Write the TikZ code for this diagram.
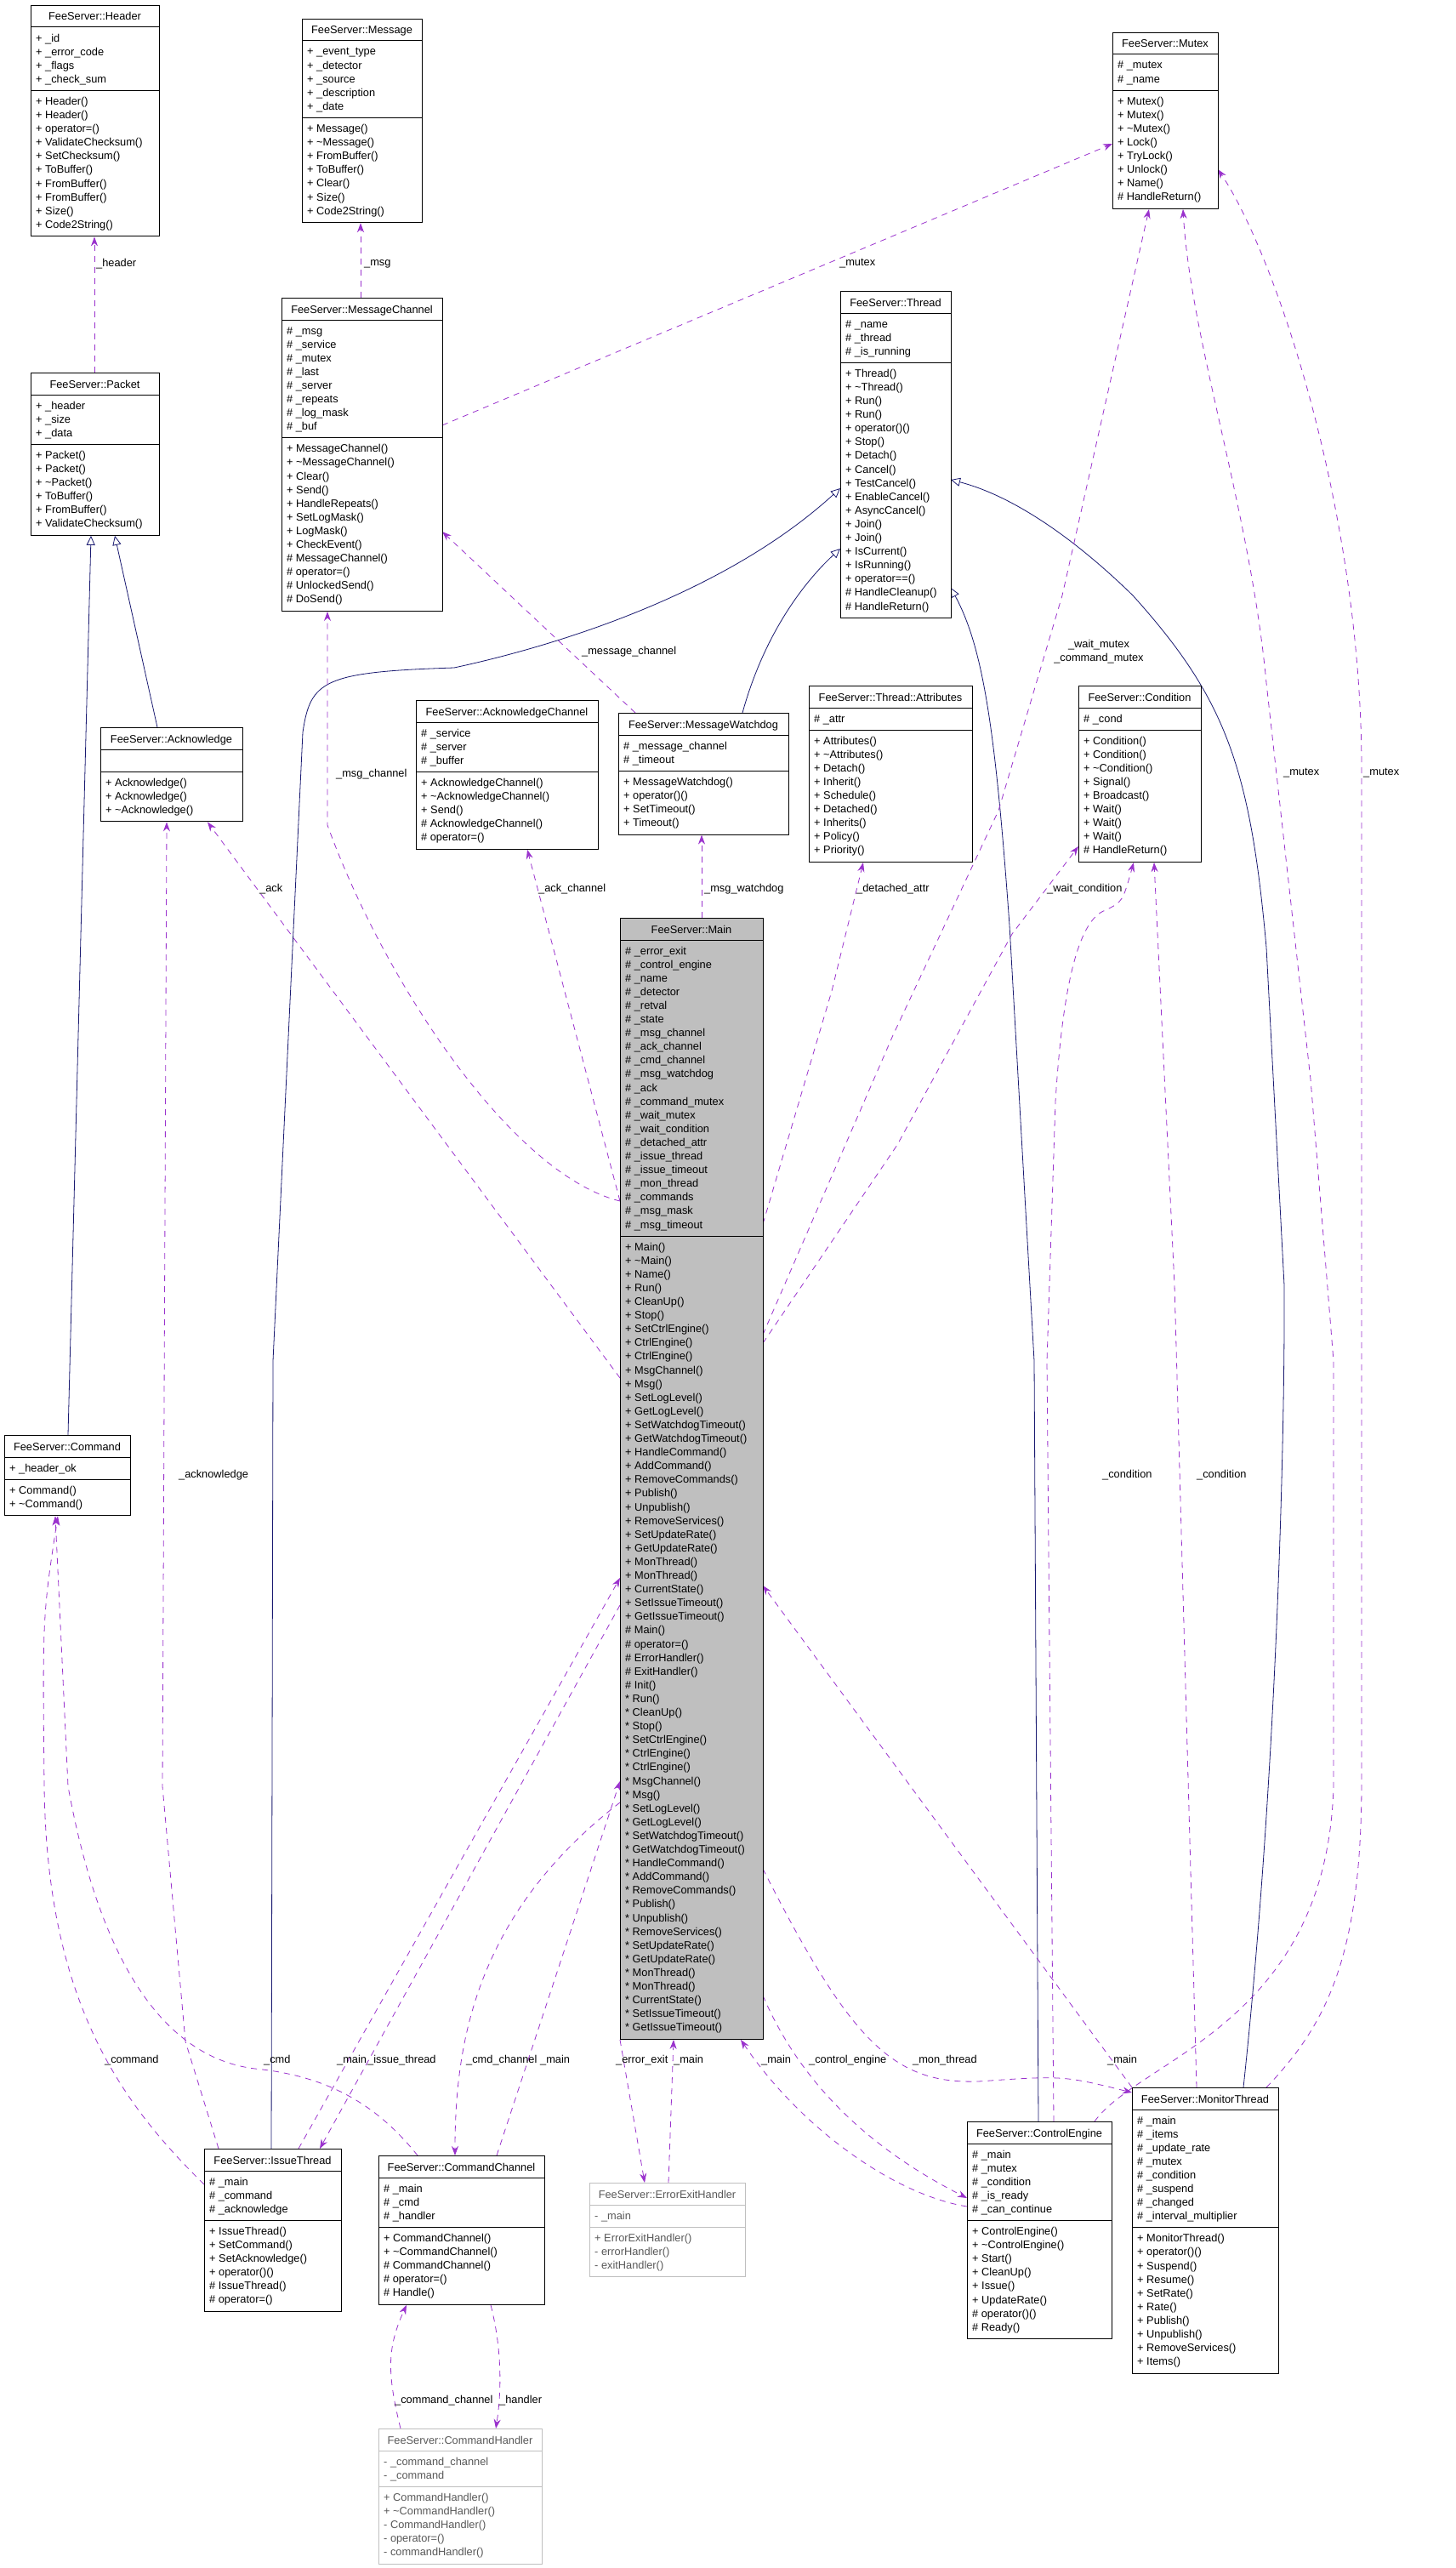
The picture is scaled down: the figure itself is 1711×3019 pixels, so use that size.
\documentclass[tikz,border=0pt]{standalone}
\usepackage{fontspec}
\setmainfont{Liberation Sans}
\usetikzlibrary{arrows.meta}
\definecolor{pur}{HTML}{9A32CD}
\definecolor{nav}{HTML}{191970}
\pgfdeclarelayer{back}\pgfdeclarelayer{bg}\pgfsetlayers{back,bg,main}
\tikzset{
 boxst/.style={draw=black, fill=white, line width=1pt},
 curbox/.style={boxst}, curtext/.style={},
 txt/.style={inner sep=0, font=\fontsize{12.8}{16}\selectfont},
 dep/.style={draw=pur, line width=0.8pt, dash pattern=on 7pt off 6pt, -{Stealth[length=11pt,width=8pt]}},
 inh/.style={draw=nav, line width=0.8pt, -{Triangle[open,length=11pt,width=10pt,fill=white]}},
 lbl/.style={txt, anchor=west},
}
\newcommand\arow{16.1}
\newcommand\umlbox[9]{%
 \pgfmathsetmacro\hB{max(#6,1)*\arow+10}%
 \pgfmathsetmacro\hC{max(#8,1)*16.1+10}%
 \pgfmathsetmacro\hT{26+\hB+\hC}%
 \node[curbox, inner sep=0, minimum width=#4pt, minimum height=\hT pt, anchor=north west] (#1) at (#2,#3) {};
 \draw[curbox,fill=none] (#2,#3+26) -- ++(#4,0);
 \draw[curbox,fill=none] (#2,#3+26+\hB) -- ++(#4,0);
 \node[txt,curtext,anchor=base] (#1t) at (#2+#4/2,#3+18) {#5};
 \foreach \t [count=\i] in {#7} {\node[txt,curtext,anchor=base west] (#1a\i) at (#2+6,#3+43+\i*\arow-\arow) {\t};}
 \foreach \t [count=\i] in {#9} {\node[txt,curtext,anchor=base west] (#1m\i) at (#2+6,#3+43+\hB+\i*16.1-16.1) {\t};}
}
\newcommand\tl{\textasciitilde}
\begin{document}
\begin{tikzpicture}[x=1pt,y=-1pt]
\useasboundingbox (0,0) rectangle (1711,3019);
\begin{pgfonlayer}{back}
\fill[white] (0,0) rectangle (1711,3019);
\end{pgfonlayer}

\umlbox{header}{36}{6}{151}{FeeServer::Header}{4}{+ \_id,+ \_error\_code,+ \_flags,+ \_check\_sum}{10}{+ Header(),+ Header(),+ operator=(),+ ValidateChecksum(),+ SetChecksum(),+ ToBuffer(),+ FromBuffer(),+ FromBuffer(),+ Size(),+ Code2String()}
\umlbox{message}{355}{22}{141}{FeeServer::Message}{5}{+ \_event\_type,+ \_detector,+ \_source,+ \_description,+ \_date}{7}{+ Message(),+ \tl Message(),+ FromBuffer(),+ ToBuffer(),+ Clear(),+ Size(),+ Code2String()}
\umlbox{mutex}{1308}{38}{124}{FeeServer::Mutex}{2}{\# \_mutex,\# \_name}{8}{+ Mutex(),+ Mutex(),+ \tl Mutex(),+ Lock(),+ TryLock(),+ Unlock(),+ Name(),\# HandleReturn()}
\umlbox{thread}{988}{342}{130}{FeeServer::Thread}{3}{\# \_name,\# \_thread,\# \_is\_running}{18}{+ Thread(),+ \tl Thread(),+ Run(),+ Run(),+ operator()(),+ Stop(),+ Detach(),+ Cancel(),+ TestCancel(),+ EnableCancel(),+ AsyncCancel(),+ Join(),+ Join(),+ IsCurrent(),+ IsRunning(),+ operator==(),\# HandleCleanup(),\# HandleReturn()}
\umlbox{mchan}{331}{350}{189}{FeeServer::MessageChannel}{8}{\# \_msg,\# \_service,\# \_mutex,\# \_last,\# \_server,\# \_repeats,\# \_log\_mask,\# \_buf}{12}{+ MessageChannel(),+ \tl MessageChannel(),+ Clear(),+ Send(),+ HandleRepeats(),+ SetLogMask(),+ LogMask(),+ CheckEvent(),\# MessageChannel(),\# operator=(),\# UnlockedSend(),\# DoSend()}
\umlbox{packet}{36}{438}{151}{FeeServer::Packet}{3}{+ \_header,+ \_size,+ \_data}{6}{+ Packet(),+ Packet(),+ \tl Packet(),+ ToBuffer(),+ FromBuffer(),+ ValidateChecksum()}
\umlbox{ack}{118}{855}{167}{FeeServer::Acknowledge}{0}{}{3}{+ Acknowledge(),+ Acknowledge(),+ \tl Acknowledge()}
\umlbox{ackch}{489}{823}{214}{FeeServer::AcknowledgeChannel}{3}{\# \_service,\# \_server,\# \_buffer}{5}{+ AcknowledgeChannel(),+ \tl AcknowledgeChannel(),+ Send(),\# AcknowledgeChannel(),\# operator=()}
\umlbox{mwd}{727}{838}{200}{FeeServer::MessageWatchdog}{2}{\# \_message\_channel,\# \_timeout}{4}{+ MessageWatchdog(),+ operator()(),+ SetTimeout(),+ Timeout()}
\umlbox{attr}{951}{806}{192}{FeeServer::Thread::Attributes}{1}{\# \_attr}{9}{+ Attributes(),+ \tl Attributes(),+ Detach(),+ Inherit(),+ Schedule(),+ Detached(),+ Inherits(),+ Policy(),+ Priority()}
\umlbox{cond}{1268}{806}{144}{FeeServer::Condition}{1}{\# \_cond}{9}{+ Condition(),+ Condition(),+ \tl Condition(),+ Signal(),+ Broadcast(),+ Wait(),+ Wait(),+ Wait(),\# HandleReturn()}
\tikzset{curbox/.style={boxst,fill=gray!50}}
\umlbox{main}{729}{1079}{168}{FeeServer::Main}{21}{\# \_error\_exit,\# \_control\_engine,\# \_name,\# \_detector,\# \_retval,\# \_state,\# \_msg\_channel,\# \_ack\_channel,\# \_cmd\_channel,\# \_msg\_watchdog,\# \_ack,\# \_command\_mutex,\# \_wait\_mutex,\# \_wait\_condition,\# \_detached\_attr,\# \_issue\_thread,\# \_issue\_timeout,\# \_mon\_thread,\# \_commands,\# \_msg\_mask,\# \_msg\_timeout}{58}{+ Main(),+ \tl Main(),+ Name(),+ Run(),+ CleanUp(),+ Stop(),+ SetCtrlEngine(),+ CtrlEngine(),+ CtrlEngine(),+ MsgChannel(),+ Msg(),+ SetLogLevel(),+ GetLogLevel(),+ SetWatchdogTimeout(),+ GetWatchdogTimeout(),+ HandleCommand(),+ AddCommand(),+ RemoveCommands(),+ Publish(),+ Unpublish(),+ RemoveServices(),+ SetUpdateRate(),+ GetUpdateRate(),+ MonThread(),+ MonThread(),+ CurrentState(),+ SetIssueTimeout(),+ GetIssueTimeout(),\# Main(),\# operator=(),\# ErrorHandler(),\# ExitHandler(),\# Init(),* Run(),* CleanUp(),* Stop(),* SetCtrlEngine(),* CtrlEngine(),* CtrlEngine(),* MsgChannel(),* Msg(),* SetLogLevel(),* GetLogLevel(),* SetWatchdogTimeout(),* GetWatchdogTimeout(),* HandleCommand(),* AddCommand(),* RemoveCommands(),* Publish(),* Unpublish(),* RemoveServices(),* SetUpdateRate(),* GetUpdateRate(),* MonThread(),* MonThread(),* CurrentState(),* SetIssueTimeout(),* GetIssueTimeout()}
\tikzset{curbox/.style={boxst}}
\umlbox{command}{5}{1687}{148}{FeeServer::Command}{1}{+ \_header\_ok}{2}{+ Command(),+ \tl Command()}
\umlbox{ithr}{240}{2526}{161}{FeeServer::IssueThread}{3}{\# \_main,\# \_command,\# \_acknowledge}{6}{+ IssueThread(),+ SetCommand(),+ SetAcknowledge(),+ operator()(),\# IssueThread(),\# operator=()}
\umlbox{cchan}{445}{2534}{195}{FeeServer::CommandChannel}{3}{\# \_main,\# \_cmd,\# \_handler}{5}{+ CommandChannel(),+ \tl CommandChannel(),\# CommandChannel(),\# operator=(),\# Handle()}
\umlbox{ceng}{1137}{2494}{170}{FeeServer::ControlEngine}{5}{\# \_main,\# \_mutex,\# \_condition,\# \_is\_ready,\# \_can\_continue}{8}{+ ControlEngine(),+ \tl ControlEngine(),+ Start(),+ CleanUp(),+ Issue(),+ UpdateRate(),\# operator()(),\# Ready()}
\umlbox{mthr}{1331}{2454}{172}{FeeServer::MonitorThread}{8}{\# \_main,\# \_items,\# \_update\_rate,\# \_mutex,\# \_condition,\# \_suspend,\# \_changed,\# \_interval\_multiplier}{10}{+ MonitorThread(),+ operator()(),+ Suspend(),+ Resume(),+ SetRate(),+ Rate(),+ Publish(),+ Unpublish(),+ RemoveServices(),+ Items()}
\tikzset{curbox/.style={boxst,draw=gray!50},curtext/.style={text=black!65}}
\umlbox{eeh}{693}{2566}{183}{FeeServer::ErrorExitHandler}{1}{- \_main}{3}{+ ErrorExitHandler(),- errorHandler(),- exitHandler()}
\umlbox{chand}{445}{2855}{192}{FeeServer::CommandHandler}{2}{- \_command\_channel,- \_command}{5}{+ CommandHandler(),+ \tl CommandHandler(),- CommandHandler(),- operator=(),- commandHandler()}

\begin{pgfonlayer}{bg}
% inheritance
\draw[inh] ([shift={(67,0)}]ack.north west) -- ([shift={(99,0)}]packet.south west);
\draw[inh] ([shift={(75,0)}]command.north west) -- ([shift={(71,0)}]packet.south west);
\draw[inh] ([shift={(79,0)}]ithr.north west) -- (321,1600) -- (356,861) .. controls (365,800) and (380,790) .. (534,785) .. controls (650,760) and (850,700) .. ([shift={(0,232)}]thread.north west);
\draw[inh] ([shift={(146,0)}]mwd.north west) .. controls (900,740) and (950,680) .. ([shift={(0,303)}]thread.north west);
\draw[inh] ([shift={(84,0)}]ceng.north west) -- (1216,1600) -- (1187,1088) .. controls (1170,850) and (1155,760) .. ([shift={(130,349)}]thread.north west);
\draw[inh] ([shift={(131,0)}]mthr.north west) .. controls (1500,2100) and (1511,1700) .. (1510,1511) -- (1489,1114) .. controls (1470,900) and (1440,820) .. (1332,700) .. controls (1250,620) and (1180,580) .. ([shift={(130,222)}]thread.north west);
% dependencies
\draw[dep] ([shift={(75,0)}]packet.north west) -- ([shift={(75,0)}]header.south west);
\draw[dep] ([shift={(93,0)}]mchan.north west) -- ([shift={(69,0)}]message.south west);
\draw[dep] ([shift={(189,150)}]mchan.north west) -- ([shift={(0,131)}]mutex.north west);
\draw[dep] ([shift={(20,0)}]mwd.north west) -- ([shift={(189,275)}]mchan.north west);
\draw[dep] ([shift={(0,333)}]main.north west) .. controls (600,1380) and (450,1150) .. (385,970) -- ([shift={(54,0)}]mchan.south west);
\draw[dep] ([shift={(0,333)}]main.north west) -- ([shift={(131,0)}]ackch.south west);
\draw[dep] ([shift={(0,541)}]main.north west) -- ([shift={(126,0)}]ack.south west);
\draw[dep] ([shift={(96,0)}]main.north west) -- ([shift={(98,0)}]mwd.south west);
\draw[dep] ([shift={(168,360)}]main.north west) -- (978,1165) -- ([shift={(64,0)}]attr.south west);
\draw[dep] ([shift={(168,500)}]main.north west) -- (1055,1346) -- (1190,1098) -- ([shift={(0,189)}]cond.north west);
\draw[dep] ([shift={(168,490)}]main.north west) -- (1050,1217) -- (1174,953) -- (1249,700) -- ([shift={(43,0)}]mutex.south west);
\draw[dep] ([shift={(17,0)}]ithr.north west) -- (218,2400) -- (191,2100) -- ([shift={(78,0)}]ack.south west);
\draw[dep] ([shift={(102,0)}]ceng.north west) -- (1231,1600) -- (1241,1295) .. controls (1250,1150) and (1270,1080) .. (1300,1070) .. controls (1320,1060) .. ([shift={(65,0)}]cond.south west);
\draw[dep] ([shift={(76,0)}]mthr.north west) -- (1381,1511) -- ([shift={(89,0)}]cond.south west);
\draw[dep] ([shift={(150,0)}]ceng.north west) .. controls (1340,2420) and (1560,2380) .. (1568,2100) -- (1568,1600) -- (1541,1269) -- (1489,803) .. controls (1470,600) and (1400,400) .. ([shift={(83,0)}]mutex.south west);
\draw[dep] ([shift={(158,0)}]mthr.north west) .. controls (1560,2380) and (1600,2300) .. (1601,2100) -- (1601,900) .. controls (1600,600) and (1500,300) .. ([shift={(124,161)}]mutex.north west);
\draw[dep] ([shift={(111,0)}]ithr.north west) -- ([shift={(0,776)}]main.north west);
\draw[dep] ([shift={(0,808)}]main.north west) -- ([shift={(136,0)}]ithr.north west);
\draw[dep] ([shift={(139,0)}]cchan.north west) -- ([shift={(0,1015)}]main.north west);
\draw[dep] ([shift={(0,1040)}]main.north west) .. controls (560,2250) and (535,2400) .. ([shift={(90,0)}]cchan.north west);
\draw[dep] (main.south west) -- ([shift={(65,0)}]eeh.north west);
\draw[dep] ([shift={(93,0)}]eeh.north west) -- ([shift={(63,0)}]main.south west);
\draw[dep] ([shift={(0,100)}]ceng.north west) .. controls (1050,2580) and (940,2500) .. ([shift={(142,0)}]main.south west);
\draw[dep] ([shift={(168,1267)}]main.north west) .. controls (950,2470) and (1050,2540) .. ([shift={(0,90)}]ceng.north west);
\draw[dep] ([shift={(168,1118)}]main.north west) .. controls (1000,2400) and (1050,2450) .. (1150,2447) .. controls (1250,2440) .. ([shift={(0,6)}]mthr.north west);
\draw[dep] (mthr.north west) -- ([shift={(168,785)}]main.north west);
\draw[dep] ([shift={(0,42)}]ithr.north west) .. controls (140,2470) and (55,2350) .. (52,2100) .. controls (50,1900) .. ([shift={(63,0)}]command.south west);
\draw[dep] ([shift={(46,0)}]cchan.north west) .. controls (440,2470) and (380,2440) .. (300,2432) .. controls (200,2420) and (120,2320) .. (80,2100) -- ([shift={(60,0)}]command.south west);
\draw[dep] ([shift={(26,0)}]chand.north west) .. controls (455,2790) and (455,2760) .. ([shift={(33,0)}]cchan.south west);
\draw[dep] ([shift={(132,0)}]cchan.south west) .. controls (590,2760) and (590,2810) .. ([shift={(138,0)}]chand.north west);
\end{pgfonlayer}

% labels
\node[lbl] (l1) at (113,310) {\_header};
\node[lbl] (l2) at (428,310) {\_msg};
\node[lbl] (l3) at (987,310) {\_mutex};
\node[lbl] (l4) at (684,766) {\_message\_channel};
\node[txt,align=center] (l5) at (1292,766) {\_wait\_mutex\\\_command\_mutex};
\node[lbl] (l6) at (395,910) {\_msg\_channel};
\node[lbl] (l7) at (1509,909) {\_mutex};
\node[lbl] (l8) at (1603,909) {\_mutex};
\node[lbl] (l9) at (305,1045) {\_ack};
\node[lbl] (l10) at (633,1045) {\_ack\_channel};
\node[lbl] (l11) at (828,1045) {\_msg\_watchdog};
\node[lbl] (l12) at (1007,1045) {\_detached\_attr};
\node[lbl] (l13) at (1231,1045) {\_wait\_condition};
\node[lbl] (l14) at (210,1734) {\_acknowledge};
\node[lbl] (l15) at (1296,1734) {\_condition};
\node[lbl] (l16) at (1407,1734) {\_condition};
\node[lbl] (l17) at (123,2422) {\_command};
\node[lbl] (l18) at (310,2422) {\_cmd};
\node[lbl] (l19) at (396,2422) {\_main};
\node[lbl] (l20) at (432,2422) {\_issue\_thread};
\node[lbl] (l21) at (548,2422) {\_cmd\_channel};
\node[lbl] (l22) at (635,2422) {\_main};
\node[lbl] (l23) at (724,2422) {\_error\_exit};
\node[lbl] (l24) at (792,2422) {\_main};
\node[lbl] (l25) at (895,2422) {\_main};
\node[lbl] (l26) at (951,2422) {\_control\_engine};
\node[lbl] (l27) at (1073,2422) {\_mon\_thread};
\node[lbl] (l28) at (1302,2422) {\_main};
\node[lbl] (l29) at (464,2822) {\_command\_channel};
\node[lbl] (l30) at (587,2822) {\_handler};
\end{tikzpicture}
\end{document}
